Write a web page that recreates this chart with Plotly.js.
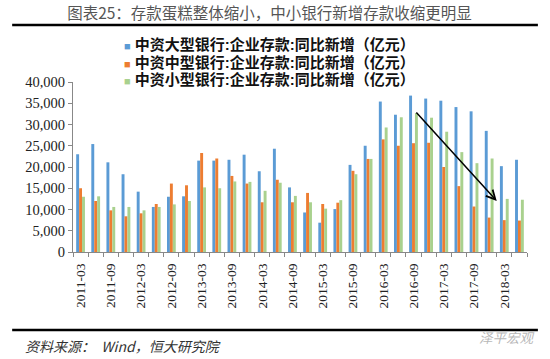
<!DOCTYPE html>
<html>
<head>
<meta charset="utf-8">
<script src="https://cdn.plot.ly/plotly-3.0.1.min.js"></script>
<style>html,body{margin:0;padding:0;background:#fff;}#chart{width:550px;height:359px;}</style>
</head>
<body>
<div id="chart"></div>
<script>
const quarters = ["2011-03","2011-06","2011-09","2011-12","2012-03","2012-06","2012-09","2012-12",
  "2013-03","2013-06","2013-09","2013-12","2014-03","2014-06","2014-09","2014-12",
  "2015-03","2015-06","2015-09","2015-12","2016-03","2016-06","2016-09","2016-12",
  "2017-03","2017-06","2017-09","2017-12","2018-03","2018-06"];
const seriesNames = ["中资大型银行:企业存款:同比新增（亿元）","中资中型银行:企业存款:同比新增（亿元）","中资小型银行:企业存款:同比新增（亿元）"];
const bigBanks = [23000,25400,21100,18300,14200,10600,13000,13100,21500,21500,21700,22900,19000,24300,15200,9300,6900,10100,20500,25000,35400,32300,36800,36100,35600,34100,33100,28500,20200,21700];
const midBanks = [15000,12000,9800,8400,9100,11300,16100,15700,23300,22000,17900,16100,11700,17000,11700,13900,11300,11600,19100,21900,26500,25000,25600,25700,20000,15500,10700,8100,7500,7400];
const smallBanks = [13000,13100,10600,10600,9800,10600,11200,12000,15200,15000,16600,16500,14400,16300,13200,11700,10200,12200,18300,21900,29300,31700,32700,31600,28300,23500,20900,22000,12500,12300];
const tickLabels = quarters.map((q,i) => i % 2 === 0 ? q : "");
const colors = ["#5B9BD5","#ED7D31","#A9D18E"];

const allSeries = [bigBanks, midBanks, smallBanks];
const traces = allSeries.map((vals, k) => ({
  type: "bar", x: quarters, y: vals, name: seriesNames[k],
  marker: {color: colors[k]}, hoverinfo: "skip"
}));

const cjk = '"Noto Sans CJK SC", "Noto Sans", sans-serif';
const legendFont = '"Liberation Sans", "Noto Sans CJK SC", sans-serif';
const serif = '"Times New Roman", "Liberation Serif", serif';

// legend drawn as text annotations (one per series)
const legendRowsY = [1.2235, 1.1176, 1.0118];
const legendAnns = seriesNames.map((nm, k) => ({
  text: "<span style='color:" + colors[k] + ";font-size:11px'>■</span> <b>" + nm + "</b>",
  xref: "paper", yref: "paper", x: 0.108, y: legendRowsY[k],
  xanchor: "left", yanchor: "middle", showarrow: false,
  font: {family: legendFont, size: 15, color: "#111"}
}));

const layout = {
  width: 550, height: 359,
  margin: {l: 73, r: 23, t: 82, b: 107},
  paper_bgcolor: "#fff", plot_bgcolor: "#fff",
  barmode: "group", bargap: 0.42, bargroupgap: 0,
  showlegend: false,
  title: {
    text: "图表25：存款蛋糕整体缩小，中小银行新增存款收缩更明显",
    font: {family: cjk, size: 15.5, color: "#555"},
    x: 0.49, xref: "container", xanchor: "center",
    y: 0.963, yref: "container", yanchor: "middle"
  },
  xaxis: {
    type: "category",
    tickmode: "array", tickvals: quarters, ticktext: tickLabels,
    tickson: "boundaries", ticks: "outside", ticklen: 4, tickcolor: "#888",
    ticklabelstandoff: 5,
    tickangle: -90, tickfont: {family: serif, size: 13.5, color: "#222"},
    showline: true, linecolor: "#888", linewidth: 1,
    showgrid: false, zeroline: false, fixedrange: true
  },
  yaxis: {
    range: [0, 40000], dtick: 5000, tickformat: ",",
    ticks: "outside", ticklen: 4, tickcolor: "#888",
    tickfont: {family: serif, size: 14.5, color: "#222"},
    showline: true, linecolor: "#888", linewidth: 1,
    showgrid: false, zeroline: false, fixedrange: true
  },
  shapes: [
    {type: "line", xref: "paper", yref: "paper", x0: -0.134, x1: 1.024, y0: 1.335, y1: 1.335,
     layer: "below", line: {color: "#000", width: 2.4}},
    {type: "line", xref: "paper", yref: "paper", x0: -0.134, x1: 1.024, y0: -0.459, y1: -0.459,
     line: {color: "#000", width: 2.5}}
  ],
  annotations: legendAnns.concat([
    {x: 27.5, y: 12000, xref: "x", yref: "y", ax: 22.1, ay: 33200, axref: "x", ayref: "y",
     showarrow: true, arrowhead: 5, arrowsize: 1.2, arrowwidth: 1.5, arrowcolor: "#000", text: ""},
    {text: "资料来源：  Wind，恒大研究院", xref: "paper", yref: "paper", x: -0.11, y: -0.55,
     xanchor: "left", yanchor: "middle", showarrow: false,
     font: {family: cjk, size: 14, color: "#333", style: "italic"}},
    {text: "泽平宏观", xref: "paper", yref: "paper", x: 0.89, y: -0.50,
     xanchor: "left", yanchor: "middle", showarrow: false,
     font: {family: cjk, size: 13.5, color: "#b8b8b8", style: "italic"}}
  ])
};

Plotly.newPlot("chart", traces, layout, {staticPlot: true, displayModeBar: false});
</script>
</body>
</html>
